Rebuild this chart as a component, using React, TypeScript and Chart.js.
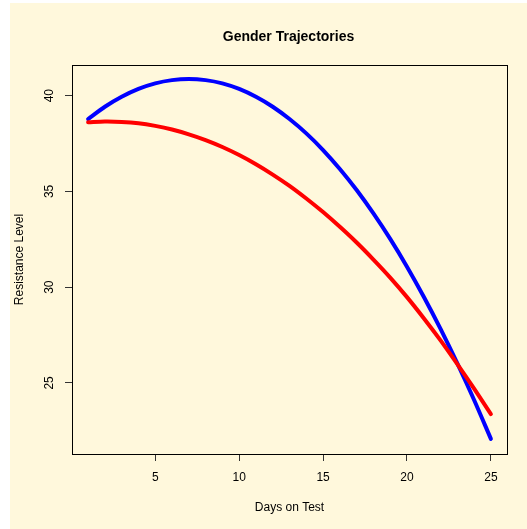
import { useEffect, useRef } from "react";
import { Chart, registerables } from "chart.js";

Chart.register(...registerables);

const FONT = '"Liberation Sans", Arial, Helvetica, sans-serif';

const TITLE = "Gender Trajectories";
const X_TITLE = "Days on Test";
const Y_TITLE = "Resistance Level";

const DAYS = [1, 2, 3, 4, 5, 6, 7, 8, 9, 10, 11, 12, 13, 14, 15, 16, 17, 18, 19, 20, 21, 22, 23, 24, 25];

const BLUE_TRAJ = [
  38.78, 39.42, 39.94, 40.35, 40.64, 40.81, 40.87, 40.81, 40.64, 40.35, 39.94, 39.42, 38.78,
  38.03, 37.16, 36.17, 35.07, 33.85, 32.52, 31.07, 29.5, 27.82, 26.02, 24.11, 22.08,
];

const RED_TRAJ = [
  38.61, 38.65, 38.63, 38.56, 38.42, 38.23, 37.98, 37.68, 37.32, 36.9, 36.42, 35.88, 35.29,
  34.63, 33.92, 33.15, 32.33, 31.44, 30.5, 29.48, 28.38, 27.22, 25.98, 24.7, 23.37,
];

const X_TICKS = [5, 10, 15, 20, 25];
const Y_TICKS = [25, 30, 35, 40];

const X_MIN = 0.04;
const X_MAX = 25.96;
const Y_MIN = 21.29;
const Y_MAX = 41.6;

const toPoints = (ys: number[]) => DAYS.map((d, i) => ({ x: d, y: ys[i] }));

// Box around the plot region, rotated y tick labels and the main title.
const framePlugin = {
  id: "frame",
  beforeDatasetsDraw(chart: any) {
    const { ctx, chartArea: a } = chart;
    ctx.save();
    ctx.strokeStyle = "#000";
    ctx.lineWidth = 1;
    const l = Math.round(a.left) + 0.5;
    const t = Math.round(a.top) + 0.5;
    const r = Math.round(a.right) + 0.5;
    const b = Math.round(a.bottom) + 0.5;
    ctx.strokeRect(l, t, r - l, b - t);
    ctx.restore();
  },
  afterDraw(chart: any) {
    const { ctx, chartArea: a, scales } = chart;
    ctx.save();
    ctx.fillStyle = "#000";
    ctx.font = `12px ${FONT}`;
    ctx.textAlign = "center";
    ctx.textBaseline = "middle";
    for (const v of Y_TICKS) {
      const y = scales.y.getPixelForValue(v);
      ctx.save();
      ctx.translate(a.left - 22, y);
      ctx.rotate(-Math.PI / 2);
      ctx.fillText(String(v), 0, 0);
      ctx.restore();
    }
    ctx.font = `bold 14px ${FONT}`;
    ctx.textBaseline = "alphabetic";
    ctx.fillText(TITLE, (a.left + a.right) / 2 - 1, 38);
    ctx.restore();
  },
};

export default function App() {
  const ref = useRef<HTMLCanvasElement>(null);

  useEffect(() => {
    if (!ref.current) return;
    const chart = new Chart(ref.current, {
      type: "line",
      data: {
        datasets: [
          {
            label: "red",
            data: toPoints(RED_TRAJ),
            borderColor: "#FF0000",
            backgroundColor: "#FF0000",
            borderWidth: 4,
            pointRadius: 0,
            fill: false,
            tension: 0.3,
            borderCapStyle: "round",
            borderJoinStyle: "round",
          },
          {
            label: "blue",
            data: toPoints(BLUE_TRAJ),
            borderColor: "#0000FF",
            backgroundColor: "#0000FF",
            borderWidth: 4,
            pointRadius: 0,
            fill: false,
            tension: 0.3,
            borderCapStyle: "round",
            borderJoinStyle: "round",
          },
        ],
      },
      options: {
        animation: false,
        responsive: false,
        events: [],
        layout: { padding: { top: 62, right: 20, left: 0, bottom: 0 } },
        plugins: {
          legend: { display: false },
          title: { display: false },
          tooltip: { enabled: false },
        },
        scales: {
          x: {
            type: "linear",
            min: X_MIN,
            max: X_MAX,
            afterBuildTicks: (s: any) => {
              s.ticks = X_TICKS.map((v) => ({ value: v }));
            },
            afterFit: (s: any) => {
              s.height = 75;
            },
            grid: { drawOnChartArea: false, drawTicks: true, tickLength: 7, color: "#333", lineWidth: 1 },
            border: { display: false },
            ticks: {
              padding: 9.5,
              color: "#000",
              font: { size: 12, family: FONT },
              maxRotation: 0,
              autoSkip: false,
              callback: (v: any) => String(v),
            },
            title: {
              display: true,
              text: X_TITLE,
              color: "#000",
              font: { size: 12, family: FONT },
              padding: { top: 0, bottom: 14 },
            },
          },
          y: {
            type: "linear",
            min: Y_MIN,
            max: Y_MAX,
            afterBuildTicks: (s: any) => {
              s.ticks = Y_TICKS.map((v) => ({ value: v }));
            },
            afterFit: (s: any) => {
              s.width = 62;
            },
            grid: { drawOnChartArea: false, drawTicks: true, tickLength: 7, color: "#333", lineWidth: 1 },
            border: { display: false },
            ticks: { display: false },
            title: {
              display: true,
              text: Y_TITLE,
              color: "#000",
              font: { size: 12, family: FONT },
              padding: { top: 2.3, bottom: 0 },
            },
          },
        },
      },
      plugins: [framePlugin],
    });
    return () => chart.destroy();
  }, []);

  return (
    <div
      style={{
        position: "absolute",
        left: 10,
        top: 3,
        width: 517,
        height: 526,
        background: "#FFF8DC",
      }}
    >
      <canvas ref={ref} width={517} height={526} style={{ display: "block", width: 517, height: 526 }} />
    </div>
  );
}
